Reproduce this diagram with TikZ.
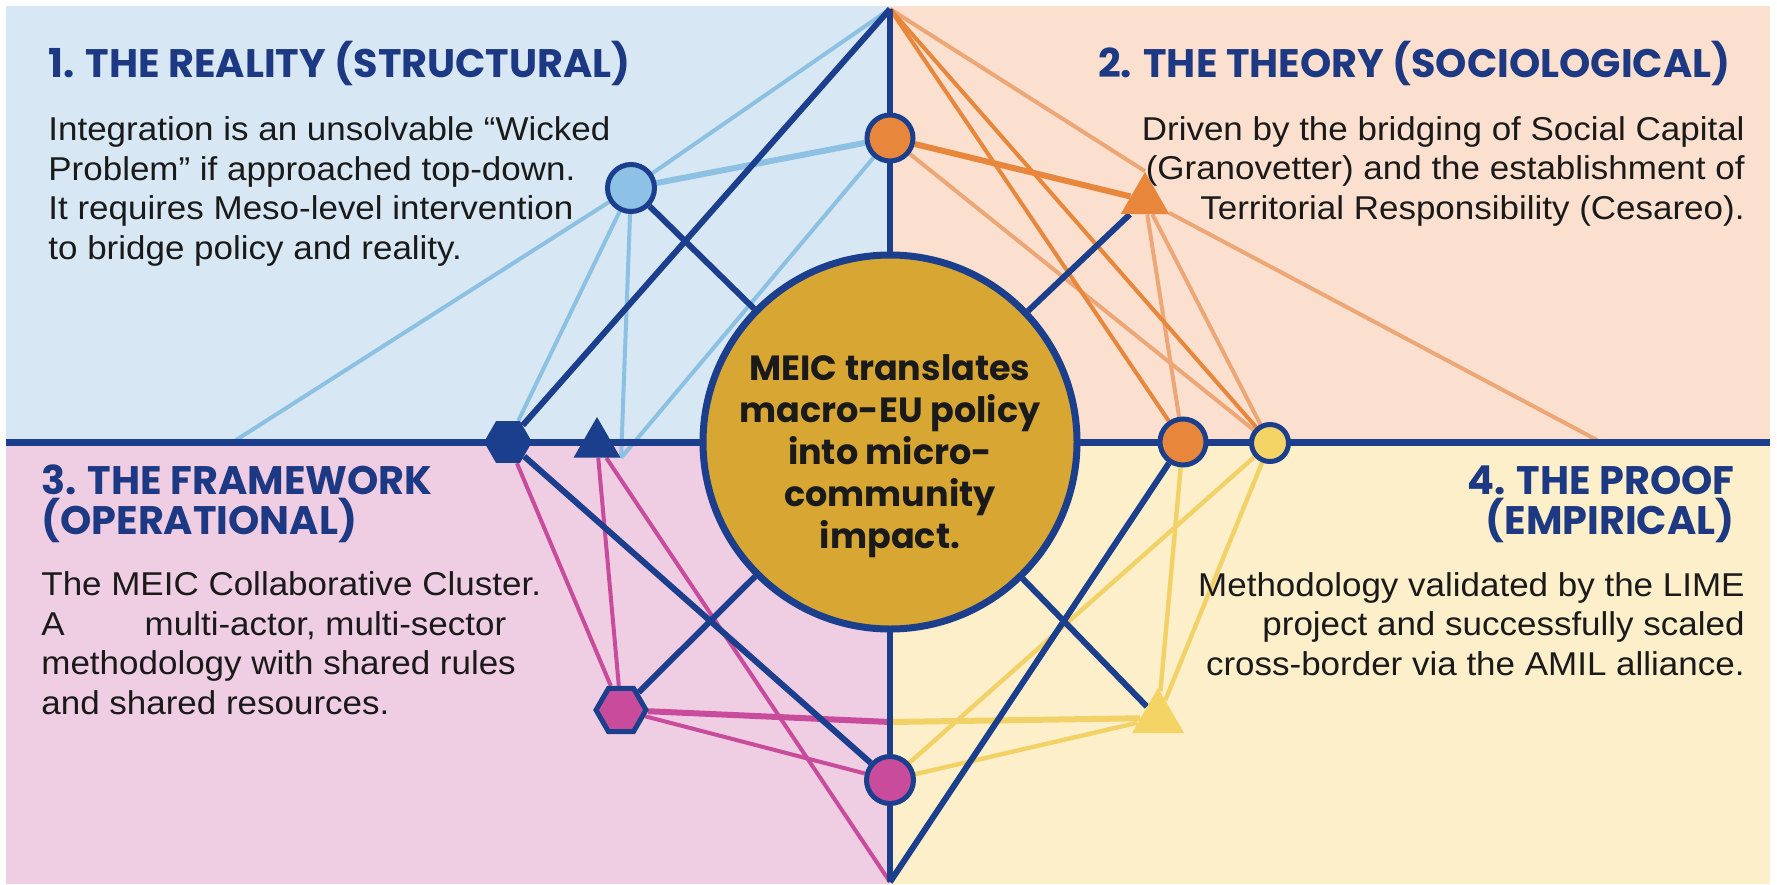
\documentclass[tikz,border=0pt]{standalone}
\usepackage{fontspec}
\setmainfont{Liberation Sans}[FakeStretch=1.06]
\newfontfamily\titlefont{Poppins}
\usetikzlibrary{shapes.geometric}
\pgfdeclarelayer{bg}
\pgfdeclarelayer{lines}
\pgfsetlayers{bg,lines,main}
\definecolor{navy}{HTML}{1C3F8D}
\definecolor{tnavy}{HTML}{1D3983}
\definecolor{qblue}{HTML}{D7E7F3}
\definecolor{qpeach}{HTML}{FBE0CF}
\definecolor{qpink}{HTML}{EFCDE3}
\definecolor{qcream}{HTML}{FCEFC9}
\definecolor{lblue}{HTML}{8CC1E3}
\definecolor{bfill}{HTML}{8DC2E6}
\definecolor{orng}{HTML}{E8873B}
\definecolor{lorng}{HTML}{EDA676}
\definecolor{mag}{HTML}{C94C9C}
\definecolor{yel}{HTML}{F2D267}
\definecolor{yfill}{HTML}{F5D466}
\definecolor{gold}{HTML}{D8A733}
\definecolor{ink}{HTML}{1A1A1A}
\tikzset{
  nv/.style={draw=navy, line width=3pt},
  axisline/.style={draw=navy, line width=3.5pt},
  lb/.style={draw=lblue, line width=2pt},
  lbthick/.style={draw=lblue, line width=3pt},
  orl/.style={draw=orng, line width=2pt},
  orthick/.style={draw=orng, line width=3pt},
  lol/.style={draw=lorng, line width=2pt},
  mgl/.style={draw=mag, line width=2pt},
  mgthick/.style={draw=mag, line width=3pt},
  yll/.style={draw=yel, line width=2.2pt},
  ylthick/.style={draw=yel, line width=3pt},
  dot/.style={circle, draw=navy, line width=2.5pt, inner sep=0pt},
  hexa/.style={regular polygon, regular polygon sides=6, inner sep=0pt},
  tria/.style={regular polygon, regular polygon sides=3, inner sep=0pt},
  ttl/.style={font=\titlefont\bfseries\fontsize{19.9}{20}\selectfont, text=tnavy, inner sep=0pt},
  bdy/.style={font=\fontsize{16.5}{19.75}\selectfont, text=ink, inner sep=0pt},
}
\begin{document}
\begin{tikzpicture}[x=0.5pt,y=-0.5pt]
\useasboundingbox (0,0) rectangle (1777,884);
\begin{pgfonlayer}{bg}
  \fill[white] (0,0) rectangle (1777,884);
  \fill[qblue] (6,6) rectangle (890,442);
  \fill[qpeach] (890,6) rectangle (1770,442);
  \fill[qpink] (6,442) rectangle (890,884);
  \fill[qcream] (890,442) rectangle (1770,884);
\end{pgfonlayer}

% coordinates
\coordinate (top) at (890,9);
\coordinate (bot) at (890,882);
\coordinate (axl) at (233,442);
\coordinate (axr) at (1597,440);
\coordinate (jn) at (890,722);
\coordinate (hl) at (6,442);
\coordinate (hr) at (1770,442);

% central node
\node[circle, draw=navy, line width=3.5pt, fill=gold, minimum size=187pt, inner sep=0pt] (meic) at (890,442) {};
\node[font=\titlefont\bfseries\fontsize{17.5}{21}\selectfont, text=ink, align=center, anchor=base, inner sep=0pt] (meictxt) at (890,548)
  {MEIC translates\\macro-EU policy\\into micro-\\community\\impact.};

% small nodes
\node[dot, fill=bfill, minimum size=23.5pt] (bc) at (631,188) {};
\node[dot, fill=orng, minimum size=23pt] (oc) at (890,138) {};
\node[dot, fill=orng, minimum size=23pt] (oca) at (1183,442) {};
\node[dot, fill=yfill, minimum size=18.5pt] (yc) at (1270,443) {};
\node[dot, fill=mag, minimum size=23.5pt] (mc) at (890,780) {};
\node[hexa, fill=navy, minimum size=24pt] (hexn) at (508,442) {};
\node[hexa, fill=mag, draw=navy, line width=2.5pt, minimum size=25pt] (mhex) at (621,710) {};
\node[tria, fill=navy, minimum size=27pt] (ntri) at (597,444) {};
\node[tria, fill=orng, minimum size=28pt] (otri) at (1145,200) {};
\node[tria, fill=yfill, minimum size=30pt] (ytri) at (1158,718) {};

% connectors
\begin{pgfonlayer}{lines}
  % light blue
  \draw[lb] (axl) -- (bc);
  \draw[lb] (bc) -- (top);
  \draw[lbthick] (bc) -- (oc);
  \draw[lb] (bc) -- (hexn);
  \draw[lb] (bc) -- (ntri.corner 3);
  \draw[lb] (oc) -- (ntri.corner 3);
  % orange
  \draw[lol] (top) -- (otri.corner 1);
  \draw[lol] (otri) -- (axr);
  \draw[lol] (oc) -- (yc);
  \draw[lol] (otri) -- (oca);
  \draw[lol] (otri) -- (yc);
  \draw[orl] (top) -- (oca);
  \draw[orl] (top) -- (yc);
  \draw[orthick] (oc) -- (otri);
  % magenta
  \draw[mgl] (hexn) -- (mhex);
  \draw[mgl] (ntri) -- (mhex);
  \draw[mgl] (ntri) -- (bot);
  \draw[mgl] (mhex) -- (mc);
  \draw[mgthick] (mhex) -- (jn);
  % yellow
  \draw[ylthick] (jn) -- (ytri);
  \draw[yll] (oca) -- (ytri);
  \draw[yll] (yc) -- (ytri);
  \draw[yll] (yc) -- (mc);
  \draw[yll] (ytri) -- (mc);
  % navy structure
  \draw[axisline] (hl) -- (hr);
  \draw[nv] (top) -- (bot);
  \draw[nv] (top) -- (hexn);
  \draw[nv] (bc) -- (meic);
  \draw[nv] (otri) -- (meic);
  \draw[nv] (mhex) -- (meic);
  \draw[nv] (meic) -- (ytri);
  \draw[nv] (hexn) -- (mc);
  \draw[nv] (bot) -- (oca);
\end{pgfonlayer}

% quadrant texts (anchor base = baseline of the last line)
\node[ttl, anchor=base west] (t1) at (48,77) {1. THE REALITY (STRUCTURAL)};
\node[bdy, anchor=base west, align=left] (b1) at (48,259)
  {Integration is an unsolvable “Wicked\\Problem” if approached top-down.\\It requires Meso-level intervention\\to bridge policy and reality.};
\node[ttl, anchor=base east] (t2) at (1731,77) {2. THE THEORY (SOCIOLOGICAL)};
\node[bdy, anchor=base east, align=right] (b2) at (1745,219)
  {Driven by the bridging of Social Capital\\(Granovetter) and the establishment of\\Territorial Responsibility (Cesareo).};
\node[ttl, anchor=base west, align=left] (t3) at (41,534) {3. THE FRAMEWORK\\(OPERATIONAL)};
\node[bdy, anchor=base west, align=left] (b3) at (41,714)
  {The MEIC Collaborative Cluster.\\A\hspace{40pt}multi-actor, multi-sector\\methodology with shared rules\\and shared resources.};
\node[ttl, anchor=base east, align=right] (t4) at (1735,534) {4. THE PROOF\\(EMPIRICAL)};
\node[bdy, anchor=base east, align=right] (b4) at (1745,675)
  {Methodology validated by the LIME\\project and successfully scaled\\cross-border via the AMIL alliance.};
\end{tikzpicture}
\end{document}
